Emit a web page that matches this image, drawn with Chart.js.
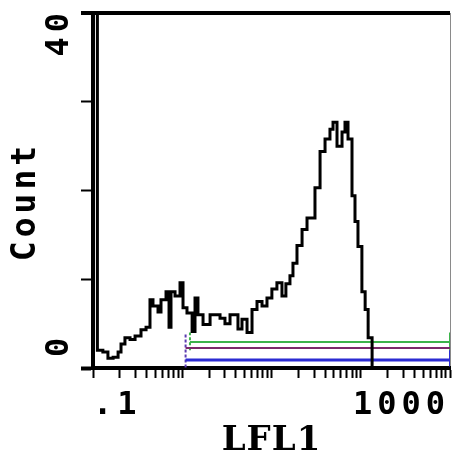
<!DOCTYPE html>
<html><head><meta charset="utf-8">
<script src="https://cdn.jsdelivr.net/npm/chart.js@4"></script>
<style>html,body{margin:0;padding:0;background:#fff;}canvas{display:block;}</style>
</head><body>
<canvas id="c" width="453" height="459"></canvas>
<script>
// ---- data ----
const binLeftEdges = [0.1, 0.112, 0.129, 0.147, 0.168, 0.191, 0.206, 0.228, 0.260, 0.296,
  0.345, 0.393, 0.435, 0.470, 0.535, 0.578, 0.658, 0.711, 0.748, 0.830,
  0.944, 1.02, 1.13, 1.29, 1.39, 1.50, 1.71, 2.05, 2.65, 3.01,
  3.43, 4.21, 4.67, 5.32, 6.05, 6.88, 7.83, 8.90, 10.1, 11.5,
  13.1, 14.5, 16.1, 17.4, 19.3, 22.0, 25.0, 30.7, 35.0, 39.8,
  45.2, 48.9, 54.2, 61.7, 66.6, 72.0, 79.8, 86.2, 93.1, 103,
  112, 121, 134, 1000];
const binCounts = [48, 2.0, 1.8, 1.1, 1.2, 1.8, 2.7, 3.4, 3.2, 3.6,
  4.3, 4.6, 7.7, 7.0, 6.3, 7.7, 8.6, 4.6, 8.6, 8.1,
  9.6, 6.8, 6.2, 4.1, 7.9, 6.0, 4.9, 6.0, 5.6, 5.0,
  6.0, 4.4, 5.5, 4.0, 6.6, 7.5, 7.0, 7.9, 8.9, 9.6,
  8.1, 9.5, 10.4, 11.8, 13.8, 15.6, 16.9, 20.3, 24.4, 25.8,
  26.9, 27.7, 25.0, 26.6, 27.7, 25.8, 19.4, 16.5, 13.7, 8.6,
  6.6, 3.4, 0, 0];
// marker (gate) lines
const markerLevels = [2.94, 2.26, 0.9];
const markerStarts = [1.22, 1.09, 1.09];
const markerEnd = 1000;
const gateLineX = [1.09, 1.22, 1000, 1000];
const gateLineLow = [-0.5, 2.0, 2.0, -0.5];
const gateLineHigh = [3.95, 4.0, 4.0, 2.5];
// axes
const xTickValues = [0.1,0.2,0.3,0.4,0.5,0.6,0.7,0.8,0.9,
  1,2,3,4,5,6,7,8,9,10,20,30,40,50,60,70,80,90,
  100,200,300,400,500,600,700,800,900,1000];
const xLabelValues = [0.1, 1000];
const xLabelTexts = ['.1', '1000'];
const yLabelValues = [0, 40];
const yLabelTexts = ['0', '40'];
const xTitle = 'LFL1';
const yTitle = 'Count';

// ---- styling ----
const MONO = '"DejaVu Sans Mono"';
const SPACING = 5;
const TITLE_SPACING = 1;
const markerColors = ['#3cb44b', '#7a2a6a', '#2b2bd2'];
const markerWidths = [2, 2, 3];
const gateColors = ['#5b3bb0', '#3cb44b', '#3cb44b', '#2b2bd2'];

const spacingPlugin = {
  id: 'spacing',
  beforeUpdate(chart) { chart.ctx.letterSpacing = SPACING + 'px'; },
  beforeDraw(chart) { chart.ctx.letterSpacing = SPACING + 'px'; }
};

const yTextPlugin = {
  id: 'ytext',
  afterDraw(chart) {
    const ys = chart.scales.y;
    const c = chart.ctx;
    c.save();
    c.fillStyle = '#000';
    c.textBaseline = 'middle';
    c.textAlign = 'left';
    c.font = 'bold 32px ' + MONO;
    c.letterSpacing = '5px';
    for (let i = 0; i < yLabelValues.length; i++) {
      const p = ys.getPixelForValue(yLabelValues[i]);
      const w = c.measureText(yLabelTexts[i]).width - 5;
      const startY = i === 0 ? p - 11 : p + w;
      c.save();
      c.translate(60, startY);
      c.rotate(-Math.PI / 2);
      c.fillText(yLabelTexts[i], 0, 0);
      c.restore();
    }
    c.font = 'bold 33px ' + MONO;
    c.letterSpacing = '4px';
    const tw = c.measureText(yTitle).width - 4;
    const cy = (ys.top + ys.bottom) / 2 + 13;
    c.save();
    c.translate(26, cy + tw / 2);
    c.rotate(-Math.PI / 2);
    c.fillText(yTitle, 0, 0);
    c.restore();
    c.restore();
  }
};

const datasets = [{
  data: binLeftEdges.map((x, i) => ({x: x, y: binCounts[i]})),
  borderColor: '#000', borderWidth: 3, pointRadius: 0, fill: false, stepped: true
}];
markerLevels.forEach((lvl, i) => {
  datasets.push({
    data: [{x: markerStarts[i], y: lvl}, {x: markerEnd, y: lvl}],
    borderColor: markerColors[i], borderWidth: markerWidths[i], pointRadius: 0, fill: false
  });
});
gateLineX.forEach((gx, i) => {
  datasets.push({
    data: [{x: gx, y: gateLineLow[i]}, {x: gx, y: gateLineHigh[i]}],
    borderColor: gateColors[i], borderWidth: 2, pointRadius: 0, fill: false,
    borderDash: i < 2 ? [3, 2] : []
  });
});

new Chart(document.getElementById('c'), {
  type: 'line',
  data: {datasets: datasets},
  plugins: [spacingPlugin, yTextPlugin],
  options: {
    responsive: false, animation: false, devicePixelRatio: 1,
    layout: {padding: {top: 13, right: 3, left: 0, bottom: 0}},
    plugins: {legend: {display: false}, tooltip: {enabled: false}},
    scales: {
      x: {
        type: 'logarithmic', min: 0.1, max: 1000, position: 'bottom',
        afterFit(s) {
          s.height = 91; s.paddingLeft = 0; s.paddingRight = 0;
          if (!s._titleWrapped) {
            const orig = s.drawTitle;
            s.drawTitle = function () {
              const c = this.ctx; const prev = c.letterSpacing;
              c.letterSpacing = TITLE_SPACING + 'px';
              orig.apply(this, arguments);
              c.letterSpacing = prev;
            };
            s._titleWrapped = true;
          }
        },
        afterBuildTicks(s) { s.ticks = xTickValues.map(v => ({value: v})); },
        ticks: {
          autoSkip: false, minRotation: 0, maxRotation: 0, align: 'inner', padding: 8,
          color: '#000', font: {family: MONO, weight: 'bold', size: 32, lineHeight: 1.2},
          callback(v) { const k = xLabelValues.indexOf(v); return k >= 0 ? xLabelTexts[k] : ''; }
        },
        grid: {
          drawOnChartArea: true, drawTicks: true, tickLength: 10, tickWidth: 2, tickColor: '#000',
          color: c => (c.tick && c.tick.value === 1000) ? '#8a8a8a' : 'rgba(0,0,0,0)',
          lineWidth: 1
        },
        border: {display: true, color: '#000', width: 4},
        title: {display: true, text: xTitle, color: '#000',
          font: {family: '"DejaVu Serif"', weight: 'bold', size: 34, lineHeight: 1},
          padding: {top: 0, bottom: 1}}
      },
      y: {
        type: 'linear', min: 0, max: 40, position: 'left',
        afterFit(s) { s.width = 93; },
        ticks: {stepSize: 10, callback() { return ''; }},
        grid: {
          drawOnChartArea: true, drawTicks: true, tickLength: 12, tickColor: '#000',
          tickWidth: c => (c.tick && (c.tick.value === 0 || c.tick.value === 40)) ? 4 : 2,
          color: c => (c.tick && c.tick.value === 40) ? '#000' : 'rgba(0,0,0,0)',
          lineWidth: c => (c.tick && c.tick.value === 40) ? 4 : 1
        },
        border: {display: true, color: '#000', width: 4}
      }
    }
  }
});
</script>
</body></html>
